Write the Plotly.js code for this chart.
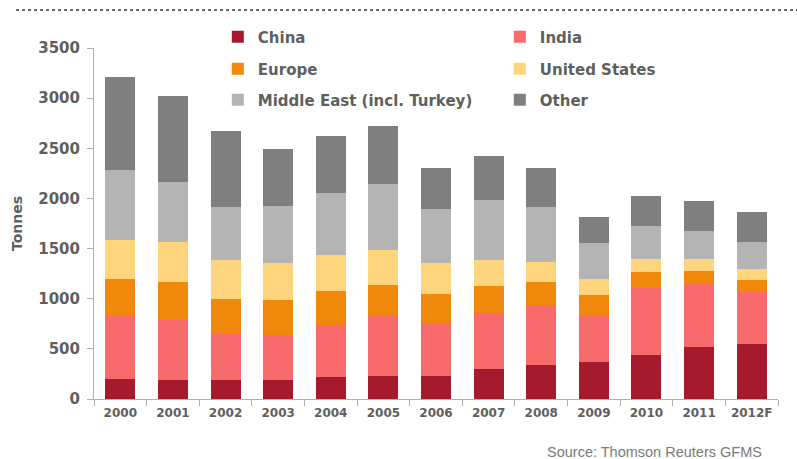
<!DOCTYPE html>
<html>
<head>
<meta charset="utf-8">
<script src="https://cdn.plot.ly/plotly-3.0.1.min.js"></script>
<style>html,body{margin:0;padding:0;background:#fff;}#chart{width:797px;height:459px;}</style>
</head>
<body>
<div id="chart"></div>
<script>
const years = ["2000","2001","2002","2003","2004","2005","2006","2007","2008","2009","2010","2011","2012F"];
const china      = [203,193,193,186,216,233,233,299,339,366,442,518,545];
const india      = [621,598,455,449,525,591,525,558,595,468,661,625,525];
const europe     = [372,372,349,355,336,316,289,266,229,203,166,136,120];
const unitedStates = [392,399,389,366,359,349,309,263,199,156,127,117,109];
const middleEast = [692,605,531,571,618,654,541,601,552,362,332,275,266];
const other      = [930,850,755,565,564,582,406,435,392,259,292,303,296];

const seriesNames = ["China","India","Europe","United States","Middle East (incl. Turkey)","Other"];
const seriesData = [china, india, europe, unitedStates, middleEast, other];
const seriesColors = ["#A51B2D","#F86A6B","#F0890B","#FED47D","#B4B4B4","#7F7F7F"];
const seriesLegend = ["legend","legend","legend2","legend2","legend3","legend3"];

const traces = seriesNames.map((n, i) => ({
  type: "bar",
  name: n,
  x: years,
  y: seriesData[i],
  marker: {color: seriesColors[i], line: {width: 0}},
  legend: seriesLegend[i],
  hoverinfo: "x+y+name"
}));

const txt = "#5f5f5f";
const legendFont = {family: "DejaVu Sans, Verdana, sans-serif", size: 15, color: txt, weight: "bold"};
function mkLegend(y) {
  return {
    orientation: "h", x: 0.181, y: y, xanchor: "left", yanchor: "middle",
    entrywidth: 237, entrywidthmode: "pixels", traceorder: "normal",
    font: legendFont, bgcolor: "rgba(0,0,0,0)", borderwidth: 0
  };
}

const layout = {
  width: 797, height: 459,
  margin: {l: 94, r: 19, t: 48, b: 60},
  paper_bgcolor: "#ffffff", plot_bgcolor: "#ffffff",
  barmode: "stack", bargap: 0.43,
  showlegend: true,
  legend: mkLegend(1.031),
  legend2: mkLegend(0.940),
  legend3: mkLegend(0.852),
  xaxis: {
    type: "category", range: [-0.5, 12.5],
    showline: true, linecolor: "#b0b0b0", linewidth: 1,
    ticks: "outside", tickson: "boundaries", ticklen: 6, tickcolor: "#b0b0b0",
    showgrid: false, zeroline: false, tickangle: 0, ticklabelstandoff: 3,
    tickfont: {family: "DejaVu Sans, Verdana, sans-serif", size: 12, color: txt, weight: "bold"}
  },
  yaxis: {
    range: [0, 3500], dtick: 500, tick0: 0,
    showline: true, linecolor: "#b0b0b0", linewidth: 1,
    ticks: "outside", ticklen: 6, tickcolor: "#b0b0b0",
    showgrid: false, zeroline: false, ticklabelstandoff: 4,
    tickfont: {family: "DejaVu Sans, Verdana, sans-serif", size: 15, color: txt, weight: "bold"},
    title: {text: "Tonnes", standoff: 12, font: {family: "DejaVu Sans, Verdana, sans-serif", size: 14, color: txt, weight: "bold"}}
  },
  shapes: [{
    type: "line", xref: "paper", yref: "paper",
    x0: -0.114, x1: 1.03, y0: 1.108, y1: 1.108,
    line: {color: "#6a6a6a", width: 2, dash: "dot"}
  }],
  annotations: [{
    text: "Source: Thomson Reuters GFMS", xref: "paper", yref: "paper",
    x: 0.979, y: -0.151, xanchor: "right", yanchor: "middle", showarrow: false,
    font: {family: "Liberation Sans, Arial, sans-serif", size: 14.5, color: "#7a7a7a"}
  }]
};

Plotly.newPlot("chart", traces, layout, {displayModeBar: false, staticPlot: true});
</script>
</body>
</html>
